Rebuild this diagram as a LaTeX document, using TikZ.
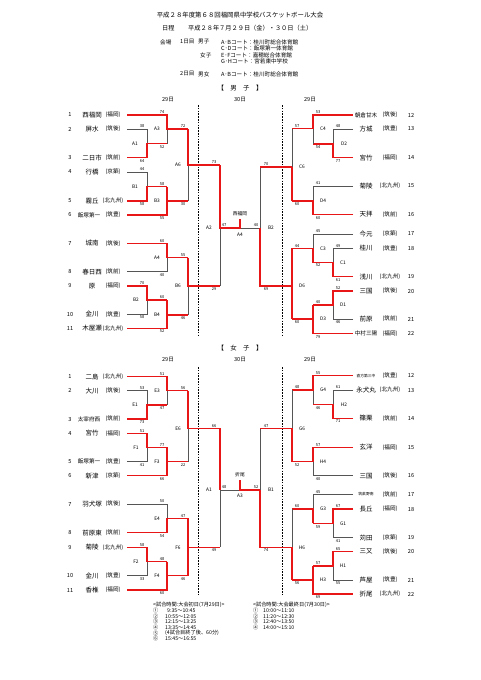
\documentclass[tikz,border=0pt]{standalone}
\usepackage{fontspec}
\setmainfont{Noto Sans CJK JP}
\definecolor{bred}{RGB}{232,22,22}
\definecolor{gline}{RGB}{85,85,85}
\tikzset{
 rl/.style={draw=bred, line width=1.5pt, line join=miter},
 gl/.style={draw=gline, line width=0.6pt},
 dl/.style={draw=black, line width=0.5pt, dash pattern=on 1.6pt off 1.2pt},
 sc/.style={font=\fontsize{4}{4}\selectfont, inner sep=0pt},
 lb/.style={font=\fontsize{4.8}{5}\selectfont, inner sep=0pt},
 nm/.style={font=\fontsize{6.5}{7}\selectfont, inner sep=0pt},
 pf/.style={font=\fontsize{5.6}{6}\selectfont, inner sep=0pt},
 num/.style={font=\fontsize{5.6}{6}\selectfont, inner sep=0pt},
 hd/.style={font=\fontsize{6.2}{7}\selectfont, inner sep=0pt, anchor=west},
 hs/.style={font=\fontsize{5.6}{6}\selectfont, inner sep=0pt, anchor=west},
 ls/.style={font=\fontsize{5.2}{5}\selectfont, inner sep=0pt, anchor=west},
}
\newcommand\teamL[5]{\node[num] (#1n) at (70,#2) {#3}; \node[nm] (#1) at (92,#2) {#4}; \node[pf] (#1p) at (113,#2) {#5};}
\newcommand\teamLw[5]{\node[num] (#1n) at (70,#2) {#3}; \node[nm,font=\fontsize{5.6}{6}\selectfont] (#1) at (89,#2) {#4}; \node[pf] (#1p) at (113,#2) {#5};}
\newcommand\teamR[5]{\node[nm] (#1) at (366,#2) {#4}; \node[pf] (#1p) at (390,#2) {#5}; \node[num] (#1n) at (411,#2) {#3};}
\newcommand\mysc[4]{\node[sc] (#1) at (#2,#3) {#4};}
\newcommand\mylb[4]{\node[lb] (#1) at (#2,#3) {#4};}
\newcommand\sm[1]{{\fontsize{5.6}{6}\selectfont #1}}
\newcommand\tn[1]{{\fontsize{3.8}{4}\selectfont #1}}
\begin{document}
\begin{tikzpicture}[x=1pt,y=-1pt]
\useasboundingbox (0,0) rectangle (481,680);
\fill[white] (0,0) rectangle (481,680);
% ---------- header ----------
\node[font=\fontsize{6.4}{7}\selectfont, inner sep=0pt] (title) at (240,15) {平成２８年度第６８回福岡県中学校バスケットボール大会};
\node[hd] (h1) at (162,28) {日程};
\node[hd] (h2) at (188,28) {平成２８年７月２９日（金）・３０日（土）};
\node[hs] (v0) at (160,42) {会場};
\node[hs] (v1) at (180,42) {1日目};
\node[hs] (v2) at (198,42) {男子};
\node[hs] (v3) at (221,42) {A･Bコート：桂川町総合体育館};
\node[hs] (v4) at (221,48.5) {C･Dコート：飯塚第一体育館};
\node[hs] (v5) at (200,55) {女子};
\node[hs] (v6) at (221,55) {E･Fコート：嘉穂総合体育館};
\node[hs] (v7) at (221,61.5) {G･Hコート：宮若東中学校};
\node[hs] (v8) at (180,74) {2日目};
\node[hs] (v9) at (198,74) {男女};
\node[hs] (v10) at (221,74) {A･Bコート：桂川町総合体育館};
% ---------- men ----------
\node[font=\fontsize{6.4}{7}\selectfont, inner sep=0pt] (men) at (240,88) {【　男　子　】};
\node[num] (md1) at (168,100) {29日};
\node[num] (md2) at (240,100) {30日};
\node[num] (md3) at (310,100) {29日};
\draw[dl] (198,105) -- (198,336);
\draw[dl] (282,105) -- (282,336);
\teamL{m1}{115}{1}{西福岡}{(福岡)}
\teamL{m2}{129}{2}{屏水}{(筑後)}
\teamL{m3}{157.6}{3}{二日市}{(筑前)}
\teamL{m4}{172}{4}{行橋}{(京築)}
\teamL{m5}{201}{5}{霧丘}{(北九州)}
\teamLw{m6}{215}{6}{飯塚第一}{(筑豊)}
\teamL{m7}{243.3}{7}{城南}{(筑後)}
\teamL{m8}{271.7}{8}{春日西}{(筑前)}
\teamL{m9}{286}{9}{原}{(福岡)}
\teamL{m10}{314.3}{10}{金川}{(筑豊)}
\teamL{m11}{328.3}{11}{木屋瀬}{(北九州)}
\teamR{m12}{115}{12}{\sm{朝倉甘木}}{(筑後)}
\teamR{m13}{129}{13}{方城}{(筑豊)}
\teamR{m14}{157.7}{14}{宮竹}{(福岡)}
\teamR{m15}{186}{15}{菊陵}{(北九州)}
\teamR{m16}{214.5}{16}{天拝}{(筑前)}
\teamR{m17}{233.8}{17}{今元}{(京築)}
\teamR{m18}{248.3}{18}{桂川}{(筑豊)}
\teamR{m19}{276.7}{19}{浅川}{(北九州)}
\teamR{m20}{291}{20}{三国}{(筑後)}
\teamR{m21}{319}{21}{前原}{(筑前)}
\teamR{m22}{333.3}{22}{\sm{中村三陽}}{(福岡)}
% men left lines
\draw[gl] (127,129) -- (147,129) -- (147,143.5);
\draw[rl] (127,157.6) -- (147,157.6) -- (147,143.5) -- (167,143.5);
\draw[gl] (167,129) -- (167,143.5);
\draw[rl] (127,115) -- (167,115) -- (167,129) -- (188,129);
\draw[gl] (127,172) -- (147,172) -- (147,186.5);
\draw[rl] (127,201) -- (147,201) -- (147,186.5) -- (167,186.5);
\draw[rl] (127,215) -- (167,215) -- (167,186.5);
\draw[rl] (167,201) -- (188,201);
\draw[gl] (188,165) -- (188,201);
\draw[rl] (188,129) -- (188,165) -- (220,165);
\draw[gl] (127,271.7) -- (167,271.7) -- (167,257.5);
\draw[rl] (127,243.3) -- (167,243.3) -- (167,257.5) -- (188,257.5);
\draw[gl] (127,314.3) -- (147,314.3) -- (147,300);
\draw[rl] (127,286) -- (147,286) -- (147,300) -- (167,300);
\draw[rl] (167,300) -- (167,328.3) -- (127,328.3);
\draw[rl] (167,315) -- (188,315);
\draw[gl] (188,286) -- (188,315);
\draw[rl] (188,257.5) -- (188,286) -- (220,286);
\draw[gl] (220,228) -- (220,286);
\draw[gl] (240,228) -- (260,228);
\draw[rl] (220,165) -- (220,228) -- (240,228) -- (240,219);
\draw[gl] (260,167) -- (260,228);
\draw[rl] (292,167) -- (260,167);
\draw[rl] (260,228) -- (260,286) -- (292,286);
% men right lines
\draw[gl] (353,129) -- (333,129) -- (333,144);
\draw[rl] (353,157.7) -- (333,157.7) -- (333,144) -- (313,144);
\draw[gl] (313,128.5) -- (313,144);
\draw[rl] (353,115) -- (313,115) -- (313,128.5) -- (292,128.5);
\draw[gl] (353,186) -- (313,186) -- (313,201);
\draw[rl] (353,214.5) -- (313,214.5) -- (313,201) -- (292,201);
\draw[gl] (292,128.5) -- (292,167);
\draw[rl] (292,201) -- (292,167);
\draw[gl] (353,248.3) -- (333,248.3) -- (333,262.5);
\draw[rl] (353,276.7) -- (333,276.7) -- (333,262.5) -- (313,262.5);
\draw[gl] (353,233.8) -- (313,233.8) -- (313,248.3);
\draw[rl] (313,262.5) -- (313,248.3) -- (292,248.3);
\draw[gl] (353,319) -- (333,319) -- (333,305);
\draw[rl] (353,291) -- (333,291) -- (333,305) -- (313,305);
\draw[rl] (313,305) -- (313,333.3) -- (353,333.3);
\draw[rl] (313,319) -- (292,319);
\draw[rl] (292,248.3) -- (292,319);
% men scores and labels
\mysc{s1}{142}{126.5}{38} \mysc{s2}{142}{161}{64} \mylb{lmA1}{135}{143.5}{A1}
\mysc{s3}{162}{112.5}{74} \mysc{s4}{162}{147}{52} \mylb{lmA3}{157}{129}{A3}
\mysc{s5}{142}{169.5}{44} \mysc{s6}{142}{204.5}{58} \mylb{lmB1}{135}{186.5}{B1}
\mysc{s7}{162}{184}{58} \mysc{s8}{162}{218.5}{55} \mylb{lmB3}{157}{201}{B3}
\mysc{s9}{183}{126.5}{72} \mysc{s10}{183}{204.5}{30} \mylb{lmA6}{178}{165}{A6}
\mysc{s11}{162}{241}{60} \mysc{s12}{162}{275}{40} \mylb{lmA4}{157}{257.5}{A4}
\mysc{s13}{142}{283.5}{70} \mysc{s14}{142}{317.5}{58} \mylb{lmB2}{136}{300}{B2}
\mysc{s15}{162}{297.5}{60} \mysc{s16}{162}{331.5}{52} \mylb{lmB4}{157}{315}{B4}
\mysc{s17}{183}{255}{55} \mysc{s18}{183}{318.5}{46} \mylb{lmB6}{178}{286}{B6}
\mysc{s19}{214}{162.5}{73} \mysc{s20}{214}{289.5}{29} \mylb{lmA2}{209}{228}{A2}
\mysc{s21}{224}{225.5}{47} \mysc{s22}{256}{225.5}{40} \mylb{lmF}{240}{234.5}{A4}
\node[font=\fontsize{4.8}{5}\selectfont, inner sep=0pt] (mwin) at (240,214) {西福岡};
\mysc{s23}{266}{164.5}{70} \mysc{s24}{266}{289.5}{69} \mylb{lmBB2}{271}{228}{B2}
\mysc{s25}{338}{126.5}{48} \mysc{s26}{338}{161}{77} \mylb{lmD2}{344}{144}{D2}
\mysc{s27}{318}{112.5}{53} \mysc{s28}{318}{147.5}{54} \mylb{lmC4}{323}{128.5}{C4}
\mysc{s29}{318}{183.5}{41} \mysc{s30}{318}{218}{60} \mylb{lmD4}{323}{201}{D4}
\mysc{s31}{297}{126}{57} \mysc{s32}{297}{204.5}{60} \mylb{lmC6}{302}{167}{C6}
\mysc{s33}{338}{245.8}{49} \mysc{s34}{338}{280}{61} \mylb{lmC1}{343}{262.5}{C1}
\mysc{s35}{318}{231.3}{45} \mysc{s36}{318}{265.5}{52} \mylb{lmC3}{323}{248.3}{C3}
\mysc{s37}{338}{288.5}{52} \mysc{s38}{338}{322.5}{46} \mylb{lmD1}{343}{305}{D1}
\mysc{s39}{318}{302.5}{40} \mysc{s40}{318}{337}{79} \mylb{lmD3}{323}{319}{D3}
\mysc{s41}{297}{245.8}{44} \mysc{s42}{297}{322.5}{60} \mylb{lmD6}{302}{286}{D6}
% ---------- women ----------
\node[font=\fontsize{6.4}{7}\selectfont, inner sep=0pt] (women) at (240,348) {【　女　子　】};
\node[num] (wd1) at (168,360) {29日};
\node[num] (wd2) at (240,360) {30日};
\node[num] (wd3) at (310,360) {29日};
\draw[dl] (198,367) -- (198,594);
\draw[dl] (282,367) -- (282,594);
\teamL{w1}{376.7}{1}{二島}{(北九州)}
\teamL{w2}{390.7}{2}{大川}{(筑後)}
\teamLw{w3}{419}{3}{太宰府西}{(筑前)}
\teamL{w4}{433.3}{4}{宮竹}{(福岡)}
\teamLw{w5}{461.7}{5}{飯塚第一}{(筑豊)}
\teamL{w6}{475.7}{6}{新津}{(京築)}
\teamL{w7}{504}{7}{羽犬塚}{(筑後)}
\teamL{w8}{532.7}{8}{前原東}{(筑前)}
\teamL{w9}{547.3}{9}{菊陵}{(北九州)}
\teamL{w10}{575.7}{10}{金川}{(筑豊)}
\teamL{w11}{590}{11}{香椎}{(福岡)}
\teamR{w12}{375.7}{12}{\tn{直方第三中}}{(筑豊)}
\teamR{w13}{390}{13}{永犬丸}{(北九州)}
\teamR{w14}{418.3}{14}{篠栗}{(筑前)}
\teamR{w15}{447.3}{15}{玄洋}{(福岡)}
\teamR{w16}{475.7}{16}{三国}{(筑後)}
\teamR{w17}{494.3}{17}{\tn{筑紫野南}}{(筑前)}
\teamR{w18}{509}{18}{長丘}{(福岡)}
\teamR{w19}{537.7}{19}{苅田}{(京築)}
\teamR{w20}{551.7}{20}{三又}{(筑後)}
\teamR{w21}{580}{21}{芦屋}{(筑豊)}
\teamR{w22}{594}{22}{折尾}{(北九州)}
% women left lines
\draw[gl] (127,390.7) -- (147,390.7) -- (147,405);
\draw[rl] (127,419) -- (147,419) -- (147,405) -- (167,405);
\draw[gl] (167,390.7) -- (167,405);
\draw[rl] (127,376.7) -- (167,376.7) -- (167,390.7) -- (188,390.7);
\draw[gl] (127,461.7) -- (147,461.7) -- (147,447.3);
\draw[rl] (127,433.3) -- (147,433.3) -- (147,447.3) -- (167,447.3);
\draw[rl] (167,447.3) -- (167,475.7) -- (127,475.7);
\draw[rl] (167,461.7) -- (188,461.7);
\draw[gl] (188,428.3) -- (188,461.7);
\draw[rl] (188,390.7) -- (188,428.3) -- (220,428.3);
\draw[gl] (127,504) -- (167,504) -- (167,518.3);
\draw[rl] (127,532.7) -- (167,532.7) -- (167,518.3) -- (188,518.3);
\draw[gl] (127,575.7) -- (147,575.7) -- (147,561.7);
\draw[rl] (127,547.3) -- (147,547.3) -- (147,561.7) -- (167,561.7);
\draw[rl] (167,561.7) -- (167,590) -- (127,590);
\draw[rl] (167,575.7) -- (188,575.7);
\draw[rl] (188,518.3) -- (188,575.7);
\draw[rl] (188,547.3) -- (220,547.3);
\draw[gl] (220,490) -- (220,547.3);
\draw[gl] (220,490) -- (240,490);
\draw[rl] (220,428.3) -- (220,490);
\draw[rl] (240,480) -- (240,490) -- (260,490);
\draw[gl] (260,428.3) -- (260,490);
\draw[rl] (292,428.3) -- (260,428.3);
\draw[rl] (260,490) -- (260,547.3) -- (292,547.3);
% women right lines
\draw[gl] (353,390) -- (333,390) -- (333,404.3);
\draw[rl] (353,418.3) -- (333,418.3) -- (333,404.3) -- (313,404.3);
\draw[gl] (313,390) -- (313,404.3);
\draw[rl] (353,375.7) -- (313,375.7) -- (313,390) -- (292,390);
\draw[gl] (313,461.7) -- (313,475.7) -- (353,475.7);
\draw[rl] (353,447.3) -- (313,447.3) -- (313,461.7) -- (292,461.7);
\draw[gl] (292,390) -- (292,428.3);
\draw[rl] (292,461.7) -- (292,428.3);
\draw[gl] (333,523.3) -- (333,537.7) -- (353,537.7);
\draw[rl] (353,509) -- (333,509) -- (333,523.3) -- (313,523.3);
\draw[gl] (353,494.3) -- (313,494.3) -- (313,509);
\draw[rl] (313,523.3) -- (313,509) -- (292,509);
\draw[gl] (333,566) -- (333,580) -- (353,580);
\draw[rl] (353,551.7) -- (333,551.7) -- (333,566) -- (313,566);
\draw[rl] (313,566) -- (313,594) -- (353,594);
\draw[rl] (313,580) -- (292,580);
\draw[gl] (292,509) -- (292,547.3);
\draw[rl] (292,580) -- (292,547.3);
% women scores and labels
\mysc{t1}{142}{388.2}{53} \mysc{t2}{142}{422.5}{73} \mylb{lwE1}{135}{405}{E1}
\mysc{t3}{162}{374.2}{51} \mysc{t4}{162}{408.5}{47} \mylb{lwE3}{157}{391}{E3}
\mysc{t5}{142}{430.8}{51} \mysc{t6}{142}{465}{41} \mylb{lwF1}{136}{447.3}{F1}
\mysc{t7}{162}{444.8}{77} \mysc{t8}{162}{479}{66} \mylb{lwF3}{157}{461.7}{F3}
\mysc{t9}{183}{388.2}{56} \mysc{t10}{183}{465}{22} \mylb{lwE6}{178}{428.3}{E6}
\mysc{t11}{162}{501.5}{50} \mysc{t12}{162}{536}{54} \mylb{lwE4}{157}{518.3}{E4}
\mysc{t13}{142}{544.8}{58} \mysc{t14}{142}{579}{33} \mylb{lwF2}{136}{561.7}{F2}
\mysc{t15}{162}{559.2}{48} \mysc{t16}{162}{593.5}{60} \mylb{lwF4}{157}{575.7}{F4}
\mysc{t17}{183}{515.8}{47} \mysc{t18}{183}{579}{46} \mylb{lwF6}{178}{547.3}{F6}
\mysc{t19}{214}{425.8}{66} \mysc{t20}{214}{550.5}{49} \mylb{lwA1}{209}{490}{A1}
\mysc{t21}{224}{487.5}{48} \mysc{t22}{256}{487.5}{52} \mylb{lwF}{240}{495.5}{A3}
\node[font=\fontsize{4.8}{5}\selectfont, inner sep=0pt] (wwin) at (240,475) {折尾};
\mysc{t23}{266}{425.8}{47} \mysc{t24}{266}{550.5}{74} \mylb{lwB1}{271}{490}{B1}
\mysc{t25}{338}{387.5}{61} \mysc{t26}{338}{421.5}{71} \mylb{lwH2}{344}{404.3}{H2}
\mysc{t27}{318}{373.2}{55} \mysc{t28}{318}{407.8}{46} \mylb{lwG4}{323}{390}{G4}
\mysc{t29}{318}{444.8}{57} \mysc{t30}{318}{479}{40} \mylb{lwH4}{323}{461.7}{H4}
\mysc{t31}{297}{387.5}{48} \mysc{t32}{297}{465}{52} \mylb{lwG6}{302}{428.3}{G6}
\mysc{t33}{338}{506.5}{67} \mysc{t34}{338}{541}{41} \mylb{lwG1}{343}{523.3}{G1}
\mysc{t35}{318}{491.8}{45} \mysc{t36}{318}{527}{59} \mylb{lwG3}{323}{509}{G3}
\mysc{t37}{338}{549.2}{65} \mysc{t38}{338}{583.5}{55} \mylb{lwH1}{343}{566}{H1}
\mysc{t39}{318}{563.5}{57} \mysc{t40}{318}{597.5}{69} \mylb{lwH3}{323}{580}{H3}
\mysc{t41}{297}{506.5}{60} \mysc{t42}{297}{583.5}{56} \mylb{lwH6}{302}{547.3}{H6}
% ---------- schedule ----------
\node[ls] (k1) at (153,605) {<試合時間:大会初日(7月29日)>};
\node[ls] (k2) at (253,605) {<試合時間:大会最終日(7月30日)>};
\node[ls] (a1) at (153,610.7) {①}; \node[ls] (a1t) at (167,610.7) {9:35～10:45};
\node[ls] (a2) at (153,616.3) {②}; \node[ls] (a2t) at (165,616.3) {10:55～12:05};
\node[ls] (a3) at (153,622) {③}; \node[ls] (a3t) at (165,622) {12:15～13:25};
\node[ls] (a4) at (153,627.6) {④}; \node[ls] (a4t) at (165,627.6) {13:35～14:45};
\node[ls] (a5) at (153,633.2) {⑤}; \node[ls] (a5t) at (165,633.2) {(4試合目終了後、60分)};
\node[ls] (a6) at (153,638.8) {⑥}; \node[ls] (a6t) at (165,638.8) {15:45～16:55};
\node[ls] (b1) at (253,610.7) {①}; \node[ls] (b1t) at (263,610.7) {10:00～11:10};
\node[ls] (b2) at (253,616.3) {②}; \node[ls] (b2t) at (263,616.3) {11:20～12:30};
\node[ls] (b3) at (253,622) {③}; \node[ls] (b3t) at (263,622) {12:40～13:50};
\node[ls] (b4) at (253,627.6) {④}; \node[ls] (b4t) at (263,627.6) {14:00～15:10};
\end{tikzpicture}
\end{document}
